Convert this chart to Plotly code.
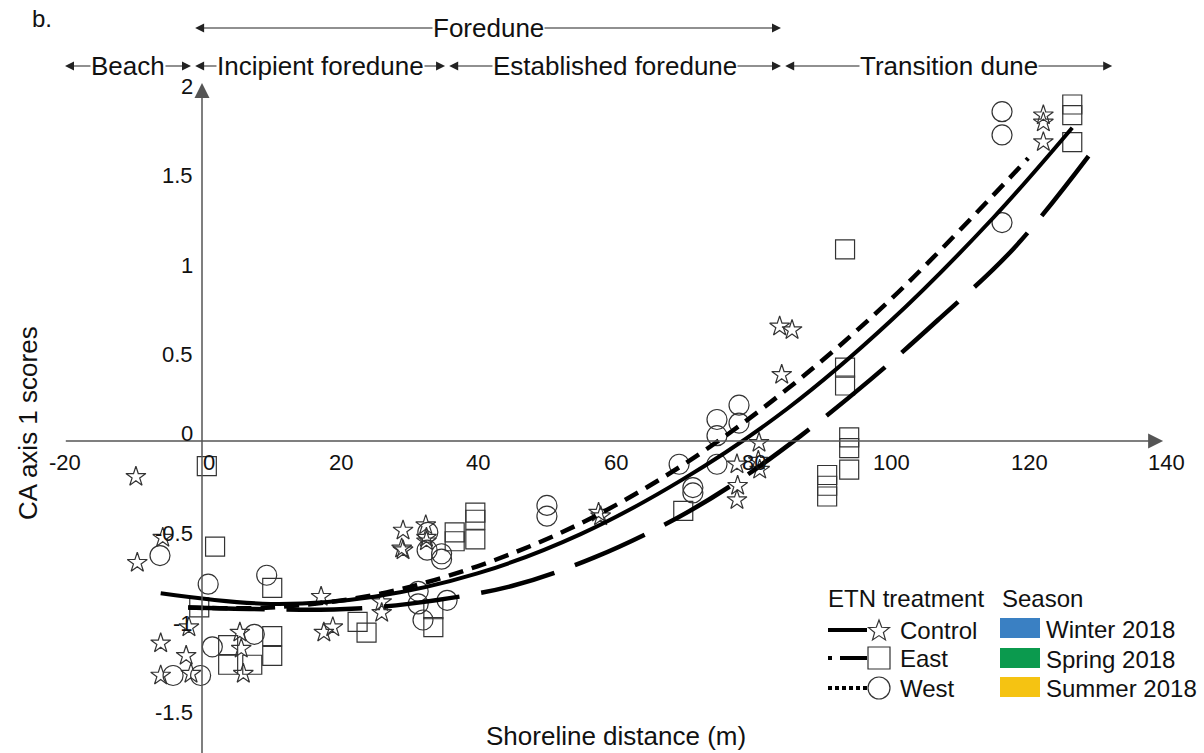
import plotly.graph_objects as go
import math

# ---------------- data ----------------
control_x = [-9.6, -5.7, -9.4, -1.9, -6.0, -2.3, -6.0, -1.6, 5.5, 5.7, 6.0, 17.3, 19.0, 17.7,
             26.1, 26.1, 29.2, 29.2, 29.0, 32.5, 32.6, 32.6, 57.6, 57.9, 77.7, 77.8, 77.7,
             80.9, 80.8, 81.0, 83.9, 85.7, 84.2, 122.2, 122.2, 122.2]
control_y = [-0.20, -0.54, -0.68, -1.04, -1.13, -1.20, -1.31, -1.30, -1.07, -1.16, -1.30, -0.87,
             -1.04, -1.07, -0.90, -0.96, -0.50, -0.61, -0.60, -0.47, -0.54, -0.56, -0.40, -0.42,
             -0.13, -0.25, -0.33, -0.01, -0.11, -0.16, 0.64, 0.62, 0.37, 1.82, 1.78, 1.67]

east_x = [0.7, 1.9, 10.2, -0.4, 3.8, 3.8, 7.3, 10.2, 10.2, 22.6, 23.9, 33.6, 33.6, 36.7, 36.7,
          39.7, 39.7, 39.7, 69.9, 93.4, 93.4, 93.4, 94.0, 94.0, 94.0, 90.8, 90.8, 90.8,
          126.4, 126.4, 126.4]
east_y = [-0.14, -0.59, -0.82, -0.93, -1.14, -1.25, -1.25, -1.09, -1.20, -1.01, -1.07, -0.94,
          -1.04, -0.51, -0.56, -0.40, -0.44, -0.55, -0.39, 0.41, 0.31, 1.07, 0.02, -0.04, -0.16,
          -0.19, -0.25, -0.31, 1.88, 1.82, 1.67]

west_x = [-6.1, 0.9, 9.4, -4.2, -0.2, 1.5, 7.6, 31.4, 31.4, 32.1, 35.6, 32.8, 32.7, 34.8, 34.8,
          50.1, 50.1, 78.0, 78.0, 74.8, 74.8, 69.3, 74.8, 71.3, 71.3, 116.2, 116.2, 116.2]
west_y = [-0.64, -0.80, -0.75, -1.31, -1.31, -1.15, -1.08, -0.84, -0.91, -1.00, -0.89, -0.51,
          -0.61, -0.63, -0.66, -0.36, -0.42, 0.20, 0.10, 0.12, 0.03, -0.13, -0.13, -0.26, -0.29,
          1.84, 1.71, 1.22]

# fitted trend curves
control_fit_x = [-6, 10, 25, 40, 55, 70, 85, 100, 115, 126.4]
control_fit_y = [-0.85, -0.91, -0.87, -0.74, -0.52, -0.21, 0.18, 0.67, 1.25, 1.75]
west_fit_x = [-2, 10, 25, 40, 55, 70, 85, 100, 120]
west_fit_y = [-0.93, -0.93, -0.86, -0.70, -0.46, -0.13, 0.29, 0.79, 1.58]
east_fit_x = [-2, 10, 20, 30, 45, 57, 69, 78, 87, 97, 107, 118, 130.5]
east_fit_y = [-0.93, -0.94, -0.94, -0.91, -0.81, -0.65, -0.43, -0.22, 0.03, 0.34, 0.68, 1.08, 1.68]

# axis ticks
x_tick_vals = [-20, 0, 20, 40, 60, 80, 100, 120, 140]
x_tick_text = ["-20", "0", "20", "40", "60", "80", "100", "120", "140"]
y_tick_vals = [-1.5, -1, -0.5, 0, 0.5, 1, 1.5, 2]
y_tick_text = ["-1.5", "-1", "-0.5", "0", "0.5", "1", "1.5", "2"]

# dune zones (shoreline distance, m)
zone_names = ["Foredune", "Beach", "Incipient foredune", "Established foredune", "Transition dune"]
zone_start = [-1.0, -19.9, -1.0, 35.9, 84.7]
zone_end = [84.1, -1.6, 35.3, 84.1, 132.2]
zone_row = [1, 2, 2, 2, 2]

treat_names = ["Control", "East", "West"]
season_names = ["Winter 2018", "Spring 2018", "Summer 2018"]
season_colors = ["#3a80c3", "#0b9a4e", "#f5c312"]

# ---------------- layout geometry ----------------
W, H = 1204, 753
X0_PX, Y0_PX = 202.0, 441.0
PX_X, PX_Y = 6.885, 179.0
x_range = [-X0_PX / PX_X, (W - X0_PX) / PX_X]
y_range = [-(H - Y0_PX) / PX_Y, Y0_PX / PX_Y]

FONT = "Liberation Sans, Arial, sans-serif"
TXT = "#111111"
tick_font = dict(family=FONT, size=22, color=TXT)
lab_font = dict(family=FONT, size=26, color=TXT)
leg_font = dict(family=FONT, size=24, color=TXT)


def px2x(px):
    return px / W


def py2y(py):
    return 1 - py / H


fig = go.Figure()

mk_line = dict(color="#333333", width=1.2)
fig.add_trace(go.Scatter(x=control_x, y=control_y, mode="markers", showlegend=False,
                         marker=dict(symbol="star-open", size=15, line=mk_line, color="#333333")))
fig.add_trace(go.Scatter(x=east_x, y=east_y, mode="markers", showlegend=False,
                         marker=dict(symbol="square-open", size=19, line=mk_line, color="#333333")))
fig.add_trace(go.Scatter(x=west_x, y=west_y, mode="markers", showlegend=False,
                         marker=dict(symbol="circle-open", size=20, line=mk_line, color="#333333")))

fig.add_trace(go.Scatter(x=control_fit_x, y=control_fit_y, mode="lines", showlegend=False,
                         line=dict(color="black", width=4, shape="spline")))
fig.add_trace(go.Scatter(x=west_fit_x, y=west_fit_y, mode="lines", showlegend=False,
                         line=dict(color="black", width=4.5, shape="spline", dash="15px,9px")))
fig.add_trace(go.Scatter(x=east_fit_x, y=east_fit_y, mode="lines", showlegend=False,
                         line=dict(color="black", width=4.5, shape="spline", dash="76px,22px")))

annotations = []
shapes = []
AX_COL = "#555555"

# axes with arrows
annotations.append(dict(x=139.6, y=0, ax=-20, ay=0, xref="x", yref="y", axref="x", ayref="y",
                        text="", showarrow=True, arrowhead=2, arrowsize=2.0, arrowwidth=1.5,
                        arrowcolor=AX_COL))
annotations.append(dict(x=0, y=2.0, ax=0, ay=y_range[0] - 0.05, xref="x", yref="y", axref="x",
                        ayref="y", text="", showarrow=True, arrowhead=2, arrowsize=2.0,
                        arrowwidth=1.5, arrowcolor=AX_COL))

for v, t in zip(x_tick_vals, x_tick_text):
    annotations.append(dict(x=v, y=0, xref="x", yref="y", text=t, showarrow=False,
                            xanchor="center", yanchor="middle", yshift=-21,
                            xshift=(7 if v == 0 else 1), font=tick_font))
for v, t in zip(y_tick_vals, y_tick_text):
    annotations.append(dict(x=0, y=v, xref="x", yref="y", text=t, showarrow=False,
                            xanchor="right", yanchor="middle", xshift=-7,
                            yshift=(8 if v == 0 else -3), font=tick_font))

# zone arrows
row_y = {1: (Y0_PX - 28) / PX_Y, 2: (Y0_PX - 66) / PX_Y}
for name, s, e, r in zip(zone_names, zone_start, zone_end, zone_row):
    c = (s + e) / 2
    yy = row_y[r]
    for end in (s, e):
        annotations.append(dict(x=end, y=yy, ax=c, ay=yy, xref="x", yref="y", axref="x",
                                ayref="y", text="", showarrow=True, arrowhead=2, arrowsize=1.5,
                                arrowwidth=1.2, arrowcolor="#222222"))
for name, s, e, r in zip(zone_names, zone_start, zone_end, zone_row):
    c = (s + e) / 2
    annotations.append(dict(x=c, y=row_y[r], xref="x", yref="y", text=name, showarrow=False,
                            xanchor="center", yanchor="middle", bgcolor="white", borderpad=0,
                            font=lab_font))

# panel letter and axis titles
annotations.append(dict(x=px2x(30), y=py2y(19), xref="paper", yref="paper", text="b.",
                        showarrow=False, xanchor="left", yanchor="middle", font=leg_font))
annotations.append(dict(x=px2x(616), y=py2y(736), xref="paper", yref="paper",
                        text="Shoreline distance (m)", showarrow=False, xanchor="center",
                        yanchor="middle", font=lab_font))
annotations.append(dict(x=px2x(28), y=py2y(423), xref="paper", yref="paper",
                        text="CA axis 1 scores", showarrow=False, textangle=-90,
                        xanchor="center", yanchor="middle", font=lab_font))

# ---------------- legend (drawn) ----------------
annotations.append(dict(x=px2x(826), y=py2y(598), xref="paper", yref="paper",
                        text="ETN treatment", showarrow=False, xanchor="left", yanchor="middle",
                        font=leg_font))
annotations.append(dict(x=px2x(1000), y=py2y(598), xref="paper", yref="paper",
                        text="Season", showarrow=False, xanchor="left", yanchor="middle",
                        font=leg_font))

row_py = [630, 658, 688]
for name, py in zip(treat_names, row_py):
    annotations.append(dict(x=px2x(898), y=py2y(py), xref="paper", yref="paper", text=name,
                            showarrow=False, xanchor="left", yanchor="middle", font=leg_font))

# legend line samples
shapes.append(dict(type="line", xref="paper", yref="paper", x0=px2x(828), x1=px2x(867),
                   y0=py2y(630), y1=py2y(630), line=dict(color="black", width=4)))
shapes.append(dict(type="line", xref="paper", yref="paper", x0=px2x(828), x1=px2x(832),
                   y0=py2y(658), y1=py2y(658), line=dict(color="black", width=4)))
shapes.append(dict(type="line", xref="paper", yref="paper", x0=px2x(840), x1=px2x(867),
                   y0=py2y(658), y1=py2y(658), line=dict(color="black", width=4)))
shapes.append(dict(type="line", xref="paper", yref="paper", x0=px2x(828), x1=px2x(867),
                   y0=py2y(688), y1=py2y(688), line=dict(color="black", width=4, dash="4px,3px")))

# legend marker samples
pts = []
for k in range(10):
    a = math.pi / 2 + k * math.pi / 5
    rad = 11 if k % 2 == 0 else 4.6
    pts.append((rad * math.cos(a), rad * math.sin(a)))
star_path = "M" + " L".join(f"{x:.2f},{y:.2f}" for x, y in pts) + " Z"
shapes.append(dict(type="path", xref="paper", yref="paper", xsizemode="pixel", ysizemode="pixel",
                   xanchor=px2x(879), yanchor=py2y(631), path=star_path,
                   line=dict(color="#333333", width=1.2), fillcolor="white"))
shapes.append(dict(type="rect", xref="paper", yref="paper", xsizemode="pixel", ysizemode="pixel",
                   xanchor=px2x(879), yanchor=py2y(658), x0=-11, x1=11, y0=-11, y1=11,
                   line=dict(color="#333333", width=1.2), fillcolor="white"))
shapes.append(dict(type="circle", xref="paper", yref="paper", xsizemode="pixel", ysizemode="pixel",
                   xanchor=px2x(879), yanchor=py2y(688), x0=-11, x1=11, y0=-11, y1=11,
                   line=dict(color="#333333", width=1.2), fillcolor="white"))

# season swatches
sw_py = [628, 658, 687]
for name, col, py in zip(season_names, season_colors, sw_py):
    shapes.append(dict(type="rect", xref="paper", yref="paper", x0=px2x(1000), x1=px2x(1040),
                       y0=py2y(py - 10), y1=py2y(py + 10), line=dict(width=0), fillcolor=col))
    annotations.append(dict(x=px2x(1044), y=py2y(py + 1), xref="paper", yref="paper", text=name,
                            showarrow=False, xanchor="left", yanchor="middle", font=leg_font))

fig.update_layout(
    width=W, height=H, autosize=False,
    margin=dict(l=0, r=0, t=0, b=0, pad=0),
    paper_bgcolor="white", plot_bgcolor="white",
    showlegend=False,
    xaxis=dict(range=x_range, visible=False, fixedrange=True),
    yaxis=dict(range=y_range, visible=False, fixedrange=True),
    annotations=annotations,
    shapes=shapes,
)

fig.write_html("out.html", config={"displayModeBar": False},
               post_script="document.body.style.margin='0';")
